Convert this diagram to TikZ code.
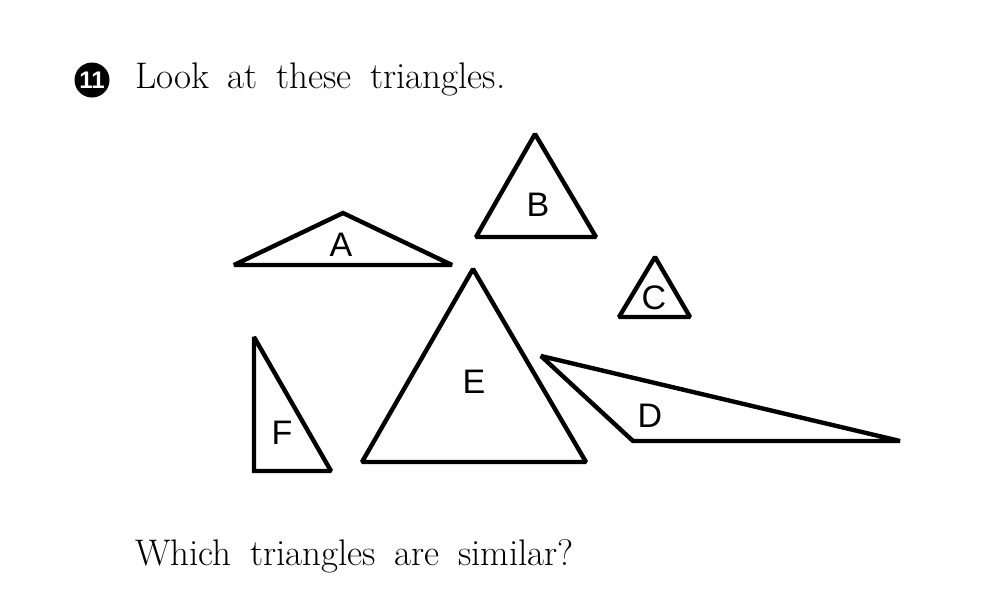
\documentclass[tikz,border=0pt]{standalone}
\usepackage{fontspec}
\newfontfamily\labelfont{Liberation Sans}
\newcommand\qfont{\fontsize{37}{37}\selectfont\spaceskip=0.5em\relax}
\usetikzlibrary{positioning}

\begin{document}
\begin{tikzpicture}[x=1pt,y=-1pt,
    tri/.style={draw=black, line width=4.4pt, line join=miter, miter limit=1.6},
    lbl/.style={font=\labelfont\fontsize{34}{34}\selectfont, inner sep=0pt},
    question/.style={font=\qfont, anchor=base west, inner sep=0pt}]
  \useasboundingbox (0,0) rectangle (984,606);

  % number and question
  \node[circle, fill=black, minimum size=35pt, inner sep=0pt,
        font=\labelfont\bfseries\fontsize{24}{24}\selectfont, text=white] (num) at (92,80) {11};
  \node[question] (look) at (135,88) {Look at these triangles.};
  \node[question] (which) at (135,565) {Which triangles are similar?};

  % triangle A
  \coordinate (A1) at (234,265);
  \coordinate (A2) at (343,213);
  \coordinate (A3) at (452,265);
  \draw[tri] (A1) -- (A2) -- (A3) -- cycle;
  \node[lbl] (la) at (341,245) {A};

  % triangle B
  \coordinate (B1) at (476,237);
  \coordinate (B2) at (535,134);
  \coordinate (B3) at (596,237);
  \draw[tri] (B1) -- (B2) -- (B3) -- cycle;
  \node[lbl] (lb) at (538,205) {B};

  % triangle C
  \coordinate (C1) at (619,317);
  \coordinate (C2) at (655,257);
  \coordinate (C3) at (690,317);
  \draw[tri] (C1) -- (C2) -- (C3) -- cycle;
  \node[lbl] (lc) at (654,298) {C};

  % triangle D
  \coordinate (D1) at (541,356);
  \coordinate (D2) at (633,441);
  \coordinate (D3) at (900,441);
  \draw[tri] (D1) -- (D2) -- (D3) -- cycle;
  \node[lbl] (ld) at (650,416) {D};

  % triangle E
  \coordinate (E1) at (362,462);
  \coordinate (E2) at (473,269);
  \coordinate (E3) at (586,462);
  \draw[tri] (E1) -- (E2) -- (E3) -- cycle;
  \node[lbl] (le) at (474,382) {E};

  % triangle F
  \coordinate (F1) at (254,337);
  \coordinate (F2) at (254,471);
  \coordinate (F3) at (331,471);
  \draw[tri] (F1) -- (F2) -- (F3) -- cycle;
  \node[lbl] (lf) at (282,433) {F};
\end{tikzpicture}
\end{document}
